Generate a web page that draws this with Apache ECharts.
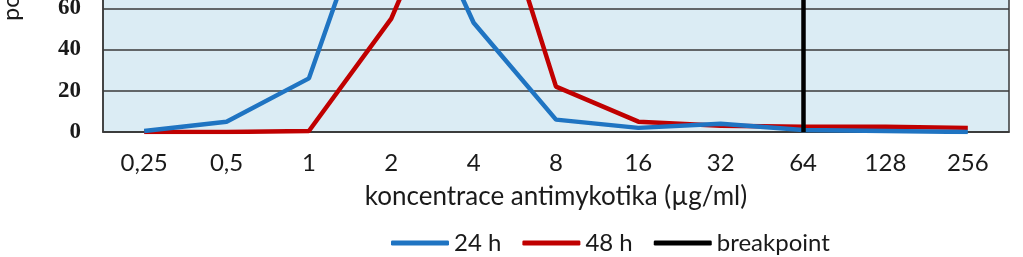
<!DOCTYPE html>
<html>
<head>
<meta charset="utf-8">
<script src="https://cdn.jsdelivr.net/npm/echarts@6/dist/echarts.min.js"></script>
<style>
html,body{margin:0;padding:0;background:#fff;overflow:hidden;width:1023px;height:257px;}
#wrap{position:relative;width:1023px;height:257px;overflow:hidden;}
#chart{position:absolute;left:0;top:-198px;width:1023px;height:455px;}
</style>
</head>
<body>
<div id="wrap"><div id="chart"></div></div>
<script>
const categories = ['0,25','0,5','1','2','4','8','16','32','64','128','256'];
const values24h = [0.5, 5, 26, 140, 53, 6, 2, 4, 1, 0.5, 0];
const values48h = [0, 0, 0.5, 55, 148, 22, 5, 3, 2.5, 2.5, 2];
const breakpointCategory = '64';
const yTicks = {min: 0, max: 160, interval: 20};
const seriesNames = ['24 h', '48 h', 'breakpoint'];

const chart = echarts.init(document.getElementById('chart'), null, {renderer: 'canvas'});
chart.setOption({
  animation: false,
  backgroundColor: '#ffffff',
  grid: {left: 103, right: 14, top: 0, bottom: 125, containLabel: false, outerBoundsMode: 'none',
    backgroundColor: '#DBECF4', show: true, borderColor: '#3a3a3a', borderWidth: 1.5},
  legend: {
    data: seriesNames,
    left: 386, top: 424,
    icon: 'roundRect',
    itemWidth: 58, itemHeight: 5,
    itemGap: 21,
    textStyle: {fontFamily: 'Lato', fontSize: 24, color: '#1a1a1a'}
  },
  xAxis: {
    type: 'category',
    data: categories,
    boundaryGap: true,
    name: 'koncentrace antimykotika (µg/ml)',
    nameLocation: 'middle',
    nameGap: 52,
    nameTextStyle: {fontFamily: 'Lato', fontSize: 26, color: '#1a1a1a'},
    axisLine: {lineStyle: {color: '#3a3a3a', width: 1.5}},
    axisTick: {show: false},
    axisLabel: {fontFamily: 'Lato', fontSize: 24, color: '#1a1a1a', margin: 19}
  },
  yAxis: {
    type: 'value',
    min: yTicks.min, max: yTicks.max, interval: yTicks.interval,
    name: 'počet kmenů',
    nameLocation: 'middle',
    nameGap: 80,
    nameTextStyle: {fontFamily: 'Lato', fontSize: 23, color: '#1a1a1a', padding: [0, 0, 0, 24]},
    axisLine: {show: true, lineStyle: {color: '#3a3a3a', width: 1.5}},
    axisTick: {show: false},
    axisLabel: {fontFamily: 'Liberation Serif', fontWeight: 'bold', fontSize: 23, color: '#1a1a1a', margin: 22},
    splitLine: {lineStyle: {color: '#3a3a3a', width: 1.5}}
  },
  series: [
    {name: '24 h', type: 'line', data: values24h, symbol: 'none', color: '#1F74C2', lineStyle: {width: 4.5, color: '#1F74C2'}, z: 3},
    {name: '48 h', type: 'line', data: values48h, symbol: 'none', color: '#C00000', lineStyle: {width: 4.5, color: '#C00000'}, z: 2},
    {name: 'breakpoint', type: 'line', data: [], symbol: 'none', color: '#000000', lineStyle: {width: 4.5, color: '#000000'},
      markLine: {silent: true, symbol: 'none', label: {show: false}, lineStyle: {color: '#000000', width: 4.5, type: 'solid'},
        data: [{xAxis: breakpointCategory}]}, z: 4}
  ]
});
</script>
</body>
</html>
